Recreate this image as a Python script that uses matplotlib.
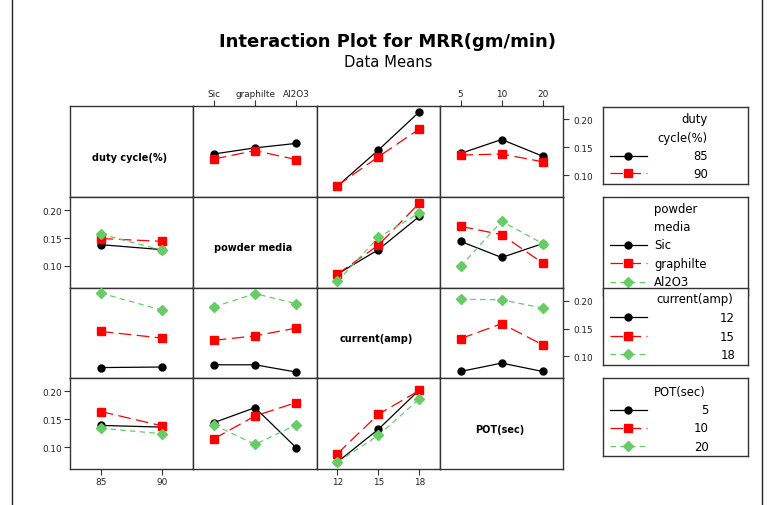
import matplotlib
matplotlib.use('Agg')
import matplotlib.pyplot as plt
from matplotlib.lines import Line2D
import numpy as np

plt.rcParams['font.family'] = ['DejaVu Sans']
plt.rcParams['lines.scale_dashes'] = False

# ---------------- data ----------------
factor_names = ['duty cycle(%)', 'powder media', 'current(amp)', 'POT(sec)']
duty_levels = ['85', '90']
powder_levels = ['Sic', 'graphilte', 'Al2O3']
current_levels = ['12', '15', '18']
pot_levels = ['5', '10', '20']

# interaction means: rows = levels of first factor, cols = levels of second
duty_powder = [[0.138, 0.149, 0.157],
               [0.129, 0.144, 0.128]]
duty_current = [[0.080, 0.145, 0.214],
                [0.081, 0.133, 0.183]]
duty_pot = [[0.139, 0.164, 0.134],
            [0.136, 0.138, 0.124]]
powder_current = [[0.085, 0.129, 0.189],
                  [0.085, 0.137, 0.213],
                  [0.072, 0.151, 0.195]]
powder_pot = [[0.144, 0.115, 0.140],
              [0.171, 0.156, 0.105],
              [0.099, 0.180, 0.140]]
current_pot = [[0.073, 0.088, 0.073],
               [0.132, 0.159, 0.121],
               [0.203, 0.202, 0.187]]

y_ticks = [0.10, 0.15, 0.20]

levels = [duty_levels, powder_levels, current_levels, pot_levels]
pairs = {(0, 1): duty_powder, (0, 2): duty_current, (0, 3): duty_pot,
         (1, 2): powder_current, (1, 3): powder_pot, (2, 3): current_pot}

# ---------------- layout ----------------
W, H = 770, 506
fig = plt.figure(figsize=(W / 100, H / 100), dpi=100)


def px_axes(x0, y0, x1, y1, **kw):
    return fig.add_axes([x0 / W, 1 - y1 / H, (x1 - x0) / W, (y1 - y0) / H], **kw)


cols = [70, 193.3, 316.7, 440, 563.3]
rows = [107.3, 198, 288.7, 379.3, 470]
ylim = (0.0607, 0.2237)
spine_col = '#333333'

GREEN = '#66CC66'
RED = '#FF0000'
styles = [dict(color='black', linestyle='-', marker='o', markersize=5),
          dict(color=RED, linestyle=(0, (9, 4)), marker='s', markersize=5.2),
          dict(color=GREEN, linestyle=(0, (4, 3)), marker='D', markersize=4.6)]

for r in range(4):
    for c in range(4):
        ax = px_axes(cols[c], rows[r], cols[c + 1], rows[r + 1])
        for sp in ax.spines.values():
            sp.set_linewidth(1.0)
            sp.set_color(spine_col)
        ax.set_ylim(ylim)
        ax.tick_params(direction='out', length=4, width=0.8, labelsize=6.4,
                       pad=2, color=spine_col, labelcolor='#222222')
        if r == c:
            ax.set_xticks([])
            ax.set_yticks([])
            ax.text(0.484, 0.445, factor_names[r], transform=ax.transAxes,
                    ha='center', va='center', fontsize=7, fontweight='bold')
            continue
        xl = levels[c]
        n = len(xl)
        x = np.arange(n)
        if r < c:
            table = np.array(pairs[(r, c)])
        else:
            table = np.array(pairs[(c, r)]).T
        for i, vals in enumerate(table):
            st = styles[i]
            ax.plot(x, vals, lw=0.9, color=st['color'], linestyle=st['linestyle'],
                    marker=st['marker'], markersize=st['markersize'],
                    markerfacecolor=st['color'], markeredgecolor=st['color'],
                    zorder=3 + i)
        ax.set_xlim(-0.5, n - 0.5)
        # x ticks
        if r == 0 and c in (1, 3):
            ax.xaxis.tick_top()
            ax.set_xticks(x, xl)
        elif r == 3 and c in (0, 2):
            ax.set_xticks(x, xl)
        else:
            ax.set_xticks([])
        # y ticks
        if c == 0 and r in (1, 3):
            ax.set_yticks(y_ticks, [f'{v:.2f}' for v in y_ticks])
        elif c == 3 and r in (0, 2):
            ax.yaxis.tick_right()
            ax.set_yticks(y_ticks, [f'{v:.2f}' for v in y_ticks])
            ax.tick_params(axis='y', pad=3)
        else:
            ax.set_yticks([])

# ---------------- titles ----------------
fig.text(388 / W, 1 - 42 / H, 'Interaction Plot for MRR(gm/min)', ha='center',
         va='center', fontsize=13, fontweight='bold')
fig.text(388 / W, 1 - 63 / H, 'Data Means', ha='center', va='center', fontsize=10.6)

# ---------------- legends ----------------
LEG_FS = 8.4


def legend_box(box, title_items, entries, z):
    x0, y0, x1, y1 = box
    ax = px_axes(x0, y0, x1, y1, zorder=z)
    ax.set_xlim(x0, x1)
    ax.set_ylim(y1, y0)
    ax.set_facecolor('white')
    ax.set_xticks([])
    ax.set_yticks([])
    for sp in ax.spines.values():
        sp.set_linewidth(1.0)
        sp.set_color(spine_col)
    for txt, tx, ty, ha in title_items:
        ax.text(tx, ty, txt, ha=ha, va='center', fontsize=LEG_FS, clip_on=True)
    for i, (lab, lx, ly, ha) in enumerate(entries):
        st = styles[i]
        ax.plot([610, 647], [ly, ly], lw=0.9, color=st['color'],
                linestyle=st['linestyle'])
        ax.plot([627.7], [ly], marker=st['marker'], markersize=st['markersize'],
                color=st['color'], linestyle='none')
        ax.text(lx, ly, lab, ha=ha, va='center', fontsize=LEG_FS, clip_on=True)


legend_box((602.7, 108.3, 748.3, 185),
           [('duty', 708, 120, 'right'), ('cycle(%)', 708, 138.3, 'right')],
           [(duty_levels[0], 708, 156.7, 'right'), (duty_levels[1], 708, 174.3, 'right')], 5)
legend_box((602.7, 198.3, 748.3, 296),
           [('powder', 654, 209.3, 'left'), ('media', 654, 227.7, 'left')],
           [(powder_levels[0], 654, 246, 'left'), (powder_levels[1], 654, 264.3, 'left'),
            (powder_levels[2], 654, 282.7, 'left')], 5)
legend_box((602.7, 289, 748.3, 365.7),
           [('current(amp)', 656, 300, 'left')],
           [(current_levels[0], 735, 318.3, 'right'), (current_levels[1], 735, 337.3, 'right'),
            (current_levels[2], 735, 355.3, 'right')], 6)
legend_box((602.7, 379, 748.3, 456.7),
           [('POT(sec)', 654, 392.3, 'left')],
           [(pot_levels[0], 709, 410.7, 'right'), (pot_levels[1], 709, 429, 'right'),
            (pot_levels[2], 709, 447.3, 'right')], 6)

# ---------------- outer frame ----------------
for fx in (12, 762):
    fig.add_artist(Line2D([fx / W, fx / W], [0, 1], transform=fig.transFigure,
                          color='#222222', lw=1.0))

fig.savefig('out.png', dpi=100)
